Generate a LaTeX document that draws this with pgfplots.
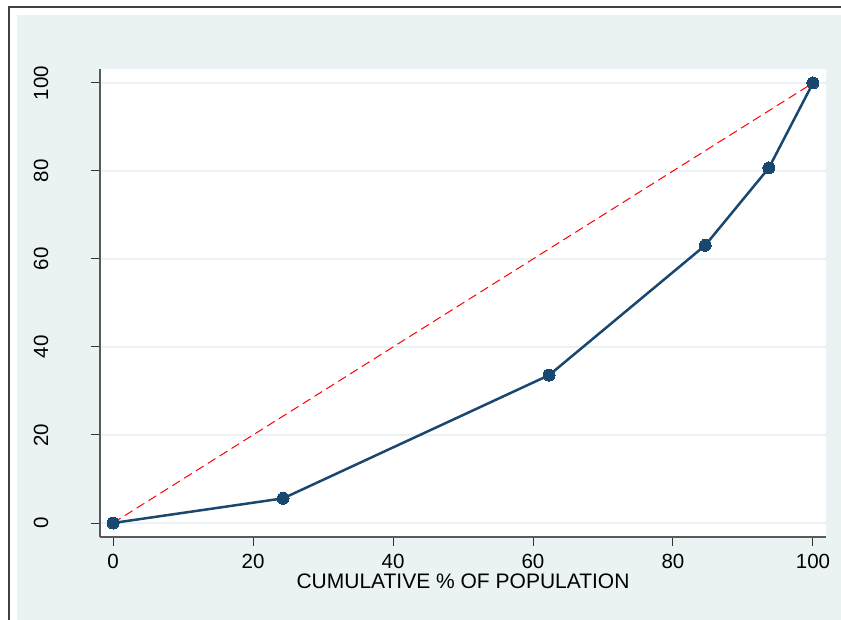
\documentclass[border=0pt]{standalone}
\usepackage{fontspec}
\setmainfont{Liberation Sans}
\usepackage{pgfplots}
\usepackage{pgfplotstable}
\pgfplotsset{compat=1.18}

\definecolor{statabg}{HTML}{EAF2F3}
\definecolor{statanavy}{HTML}{1A476F}
\definecolor{axisgrey}{HTML}{5A5A5A}

% cumulative % of population vs cumulative share
\pgfplotstableread{
x y
0 0
24.3 5.6
62.3 33.6
84.6 63.1
93.7 80.7
100 100
}\lorenz

\begin{document}
\begin{tikzpicture}[x=1pt,y=1pt]
\useasboundingbox (0,0) rectangle (841,620);
\fill[white] (0,0) rectangle (841,620);
\fill[statabg] (17,0) rectangle (841,605);
\draw[line width=1.5pt, black!75] (9,0) -- (9,613) -- (841,613);
\begin{axis}[
    at={(100pt,83pt)}, anchor=south west,
    width=726pt, height=468pt, scale only axis,
    xmin=-1.86, xmax=101.86,
    ymin=-3.18, ymax=103.18,
    axis x line*=bottom, axis y line*=left,
    axis line style={axisgrey, line width=1.3pt, -},
    axis background/.style={fill=white},
    xtick={0,20,...,100}, ytick={0,20,...,100},
    tick align=outside, major tick length=9pt,
    tick style={black!80, line width=1pt},
    ymajorgrids,
    major grid style={statabg, line width=2pt},
    /pgf/number format/assume math mode=true,
    tick label style={font=\fontsize{20.5}{21}\selectfont, inner sep=0pt},
    xticklabel style={anchor=base, yshift=-23pt},
    yticklabel style={rotate=90, anchor=base, yshift=43pt},
    xlabel={CUMULATIVE \% OF POPULATION},
    xlabel style={at={(axis description cs:0.5,0)}, anchor=base,
        yshift=-52pt, inner sep=0pt, font=\fontsize{21}{22}\selectfont},
]
\addplot[statanavy, line width=2.5pt, mark=*, mark size=6pt,
    mark options={solid, fill=statanavy, draw=statanavy, line width=0pt}]
    table {\lorenz};
\addplot[red, line width=1pt, dash pattern=on 9pt off 5pt]
    coordinates {(0,0) (100,100)};
\end{axis}
\end{tikzpicture}
\end{document}
